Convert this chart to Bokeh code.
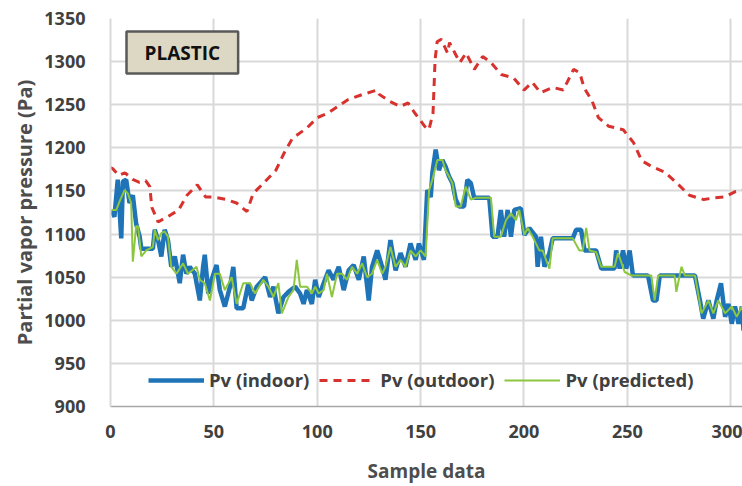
from bokeh.plotting import figure
from bokeh.models import Range1d, Label, Legend, LegendItem, FixedTicker
from bokeh.embed import file_html
from bokeh.resources import INLINE

# ---- data ----
out_x = [0, 1, 4, 7, 11, 14, 17, 19, 20, 23, 26, 29, 33, 37, 42, 46, 50, 56, 61, 66, 69, 74, 80, 84, 88,
         95, 100, 105, 110, 115, 122, 129, 130, 135, 140, 144, 147, 152, 154, 156, 157, 158, 160, 163, 164,
         167, 169, 172, 176, 180, 184, 189, 195, 200, 204, 208, 214, 219, 224, 227, 229, 233, 236, 241, 248,
         253, 257, 262, 268, 274, 280, 287, 292, 297, 302, 306]
out_y = [1177, 1176, 1168, 1171, 1163, 1160, 1162, 1155, 1131, 1114, 1118, 1122, 1128, 1145, 1157, 1143, 1143,
         1140, 1136, 1126, 1147, 1159, 1174, 1194, 1211, 1223, 1235, 1240, 1248, 1256, 1262, 1267, 1262, 1254,
         1248, 1252, 1241, 1225, 1221, 1240, 1302, 1323, 1326, 1310, 1322, 1308, 1299, 1310, 1291, 1306, 1299,
         1285, 1281, 1267, 1276, 1264, 1270, 1267, 1291, 1287, 1270, 1254, 1235, 1225, 1221, 1206, 1185, 1178,
         1172, 1159, 1145, 1140, 1142, 1143, 1149, 1151]

in_x = [0.3, 1.9, 3.5, 5.2, 6.0, 7.6, 9.2, 10.8, 12.4, 14.1, 14.9, 20.5, 21.4, 23.0, 24.6, 26.2, 27.8, 29.4,
        31.1, 33.5, 35.1, 36.7, 38.3, 40.8, 43.2, 44.8, 45.6, 47.3, 48.9, 51.3, 52.9, 55.3, 57.8, 59.4, 61.0,
        64.2, 66.7, 68.3, 70.7, 74.8, 77.2, 78.8, 81.2, 83.7, 86.1, 89.3, 91.7, 93.4, 95.0, 97.4, 99.0, 100.7,
        103.1, 105.5, 107.9, 110.4, 112.8, 115.2, 117.6, 120.1, 122.5, 124.9, 126.5, 129.0, 131.4, 133.0,
        135.4, 137.9, 140.3, 142.7, 145.1, 147.6, 149.2, 151.6, 153.2, 154.9, 155.7, 157.3, 158.9, 160.5,
        162.1, 163.7, 165.4, 167.0, 168.6, 171.0, 172.6, 174.3, 175.9, 183.2, 184.8, 187.2, 188.8, 190.4,
        192.1, 193.7, 195.3, 198.5, 200.2, 202.6, 205.8, 206.6, 208.2, 209.9, 212.3, 213.9, 223.6, 225.2,
        227.6, 229.3, 234.9, 237.4, 243.8, 244.6, 246.3, 247.9, 249.5, 251.1, 252.7, 260.0, 262.4, 264.1,
        265.7, 282.7, 285.1, 286.7, 289.2, 291.6, 293.2, 295.3, 297.3, 298.9, 300.5, 302.1, 303.8, 305.4, 306.2]
in_y = [1128, 1120, 1163, 1095, 1161, 1163, 1136, 1145, 1112, 1097, 1083, 1083, 1105, 1093, 1074, 1105, 1093,
        1062, 1074, 1043, 1076, 1054, 1062, 1054, 1023, 1062, 1076, 1031, 1047, 1064, 1035, 1016, 1039, 1062,
        1014, 1014, 1043, 1023, 1039, 1050, 1027, 1039, 1008, 1027, 1033, 1039, 1031, 1019, 1035, 1019, 1047,
        1027, 1043, 1058, 1047, 1062, 1035, 1058, 1064, 1047, 1074, 1023, 1062, 1081, 1062, 1047, 1093, 1058,
        1078, 1062, 1089, 1070, 1089, 1070, 1151, 1143, 1171, 1198, 1174, 1186, 1178, 1167, 1159, 1140, 1132,
        1132, 1163, 1159, 1142, 1142, 1097, 1097, 1128, 1097, 1128, 1097, 1128, 1130, 1099, 1107, 1097, 1062,
        1097, 1062, 1078, 1095, 1095, 1105, 1105, 1081, 1081, 1060, 1060, 1081, 1060, 1081, 1060, 1081, 1052,
        1052, 1023, 1023, 1052, 1052, 1023, 1002, 1023, 1002, 1023, 1043, 1004, 1019, 996, 1016, 996, 1016, 988]

pred_x = [0.3, 2.8, 4.4, 6.8, 8.4, 10.0, 10.8, 12.4, 13.3, 14.9, 17.3, 20.5, 21.4, 23.0, 24.6, 26.2, 27.8, 29.4,
          31.9, 35.1, 37.5, 41.6, 43.2, 45.6, 48.1, 50.5, 52.9, 55.3, 58.6, 61.0, 64.2, 67.5, 69.9, 73.9, 76.4,
          78.8, 81.2, 82.9, 86.1, 88.5, 90.1, 91.7, 95.0, 97.4, 99.0, 100.7, 103.1, 104.7, 107.1, 109.6, 112.0,
          114.4, 116.8, 119.3, 121.7, 124.1, 126.5, 129.0, 131.4, 133.0, 135.4, 137.9, 140.3, 142.7, 145.1,
          147.6, 150.0, 152.4, 154.1, 155.7, 158.1, 160.5, 162.1, 163.7, 165.4, 167.0, 169.4, 171.8, 174.3,
          176.7, 184.0, 185.6, 188.8, 191.3, 193.7, 196.1, 197.7, 200.2, 201.8, 204.2, 207.4, 209.0, 212.3,
          213.9, 223.6, 226.8, 228.4, 230.1, 231.7, 234.9, 237.4, 243.8, 245.5, 248.7, 251.9, 261.6, 263.2,
          264.9, 272.9, 273.7, 276.2, 277.8, 282.7, 285.9, 289.2, 291.6, 294.0, 297.3, 300.5, 302.9, 305.4, 307.0]
pred_y = [1128, 1128, 1138, 1151, 1147, 1136, 1068, 1109, 1109, 1074, 1081, 1085, 1105, 1093, 1101, 1103, 1097,
          1062, 1054, 1066, 1054, 1062, 1047, 1043, 1023, 1054, 1054, 1035, 1050, 1019, 1043, 1043, 1031, 1047,
          1039, 1027, 1043, 1008, 1027, 1035, 1070, 1039, 1039, 1031, 1039, 1031, 1035, 1054, 1027, 1054, 1054,
          1047, 1062, 1054, 1066, 1050, 1054, 1070, 1054, 1062, 1085, 1062, 1070, 1062, 1081, 1074, 1081, 1074,
          1151, 1163, 1186, 1186, 1174, 1167, 1159, 1132, 1132, 1155, 1140, 1142, 1142, 1097, 1097, 1116, 1124,
          1116, 1128, 1099, 1107, 1097, 1081, 1081, 1060, 1095, 1095, 1081, 1081, 1107, 1081, 1079, 1062, 1062,
          1078, 1056, 1052, 1052, 1023, 1052, 1052, 1033, 1062, 1052, 1052, 1008, 1023, 1008, 1023, 1008, 1016,
          1004, 1016, 999]

x_ticks = [0, 50, 100, 150, 200, 250, 300]
y_ticks = [900, 950, 1000, 1050, 1100, 1150, 1200, 1250, 1300, 1350]

TICK = "#404040"
TITLE = "#4d4d4d"
FONT = "Open Sans"

p = figure(width=742, height=486, output_backend="svg", toolbar_location=None,
           x_range=Range1d(0, 305.7), y_range=Range1d(900, 1350),
           min_border_left=110, min_border_right=0, min_border_top=18, min_border_bottom=80)
p.outline_line_color = None
p.background_fill_color = "white"

p.xaxis.ticker = FixedTicker(ticks=x_ticks)
p.yaxis.ticker = FixedTicker(ticks=y_ticks)
for ax in (p.xaxis[0], p.yaxis[0]):
    ax.major_tick_line_color = None
    ax.minor_tick_line_color = None
    ax.major_label_text_font = FONT
    ax.major_label_text_font_style = "bold"
    ax.major_label_text_font_size = "18px"
    ax.major_label_text_color = TICK
    ax.axis_label_text_font = FONT
    ax.axis_label_text_font_style = "bold"
    ax.axis_label_text_color = TITLE
p.xaxis.axis_label_text_font_size = "19px"
p.yaxis.axis_label_text_font_size = "20px"
p.xaxis.axis_line_color = "#a6a6a6"
p.xaxis.axis_line_width = 1.5
p.yaxis.axis_line_color = "#d9d9d9"
p.yaxis.axis_line_width = 2
p.xaxis.axis_label = "Sample data"
p.yaxis.axis_label = "Partial vapor pressure (Pa)"
p.xaxis.major_label_standoff = 12
p.xaxis.axis_label_standoff = 17
p.yaxis.major_label_standoff = 19
p.yaxis.axis_label_standoff = 3

p.xgrid.grid_line_color = "#d9d9d9"
p.ygrid.grid_line_color = "#d9d9d9"
p.xgrid.grid_line_width = 2
p.ygrid.grid_line_width = 2

r_in = p.line(in_x, in_y, line_color="#1f74b8", line_width=4.5)
r_out = p.line(out_x, out_y, line_color="#d7322d", line_width=3, line_dash="8 6")
r_pred = p.line(pred_x, pred_y, line_color="#8cc63f", line_width=2)

legend = Legend(items=[LegendItem(label="Pv (indoor)", renderers=[r_in]),
                       LegendItem(label="Pv (outdoor)", renderers=[r_out]),
                       LegendItem(label="Pv (predicted)", renderers=[r_pred])],
                orientation="horizontal", location=(38, 14))
legend.background_fill_alpha = 0
legend.border_line_color = None
legend.label_text_font = FONT
legend.label_text_font_style = "bold"
legend.label_text_font_size = "18.5px"
legend.label_text_color = "#404040"
legend.glyph_width = 56
legend.glyph_height = 20
legend.label_height = 20
legend.label_standoff = 5
legend.spacing = 10
legend.padding = 4
p.add_layout(legend)

box = Label(x=16, y=333, x_units="screen", y_units="screen", text="PLASTIC",
            text_font=FONT, text_font_style="bold", text_font_size="19px", text_color="#111111",
            background_fill_color="#ddd8c4", border_line_color="#595959", border_line_width=2.5,
            padding=dict(left=18, right=18, top=8, bottom=8))
p.add_layout(box)

open("out.html", "w").write(file_html(p, INLINE))
